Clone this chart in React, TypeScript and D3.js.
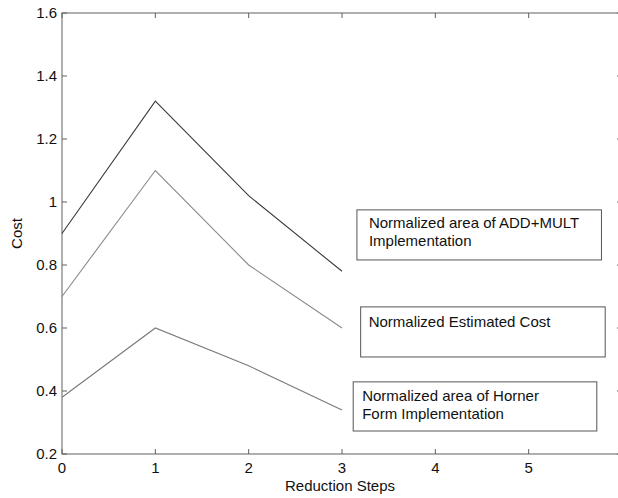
import React from 'react';
import * as d3 from 'd3';

const steps = [0, 1, 2, 3];
const addMult = [0.9, 1.32, 1.02, 0.78];
const estCost = [0.7, 1.1, 0.8, 0.6];
const horner = [0.38, 0.6, 0.48, 0.34];
const xTicks = [0, 1, 2, 3, 4, 5];
const yTicks = [0.2, 0.4, 0.6, 0.8, 1.0, 1.2, 1.4, 1.6];

const series = [
    { values: addMult, color: '#3a3a3a' },
    { values: estCost, color: '#8a8a8a' },
    { values: horner, color: '#7a7a7a' },
];

// annotation boxes, corners in data units
const notes = [
    { x0: 3.16, x1: 5.78, y0: 0.975, y1: 0.816, lines: ['Normalized area of ADD+MULT', 'Implementation'], pad: 12, first: 18 },
    { x0: 3.20, x1: 5.82, y0: 0.667, y1: 0.508, lines: ['Normalized Estimated Cost'], pad: 8, first: 20 },
    { x0: 3.12, x1: 5.73, y0: 0.429, y1: 0.273, lines: ['Normalized area of Horner', 'Form Implementation'], pad: 9, first: 19 },
];

const W = 618;
const H = 498;
const left = 62;
const right = 622;
const top = 13;
const bottom = 454;
const font = 'Liberation Sans, Arial, sans-serif';
const axisColor = '#606060';

export default function App() {
    const x = d3.scaleLinear().domain([0, 6]).range([left, right]);
    const y = d3.scaleLinear().domain([0.2, 1.6]).range([bottom, top]);
    const line = d3.line<number>().x((d, i) => x(steps[i])).y(d => y(d));
    const tickLen = 5;

    return (
        <svg width={W} height={H} style={{ position: 'absolute', left: 0, top: 0, background: '#fff' }}
            fontFamily={font}>
            <rect x={left} y={top} width={right - left} height={bottom - top} fill="none" stroke={axisColor} strokeWidth={1} />
            {xTicks.map(t => (
                <g key={'x' + t}>
                    <line x1={x(t)} x2={x(t)} y1={bottom} y2={bottom - tickLen} stroke={axisColor} />
                    <line x1={x(t)} x2={x(t)} y1={top} y2={top + tickLen} stroke={axisColor} />
                    <text x={x(t)} y={bottom + 19} textAnchor="middle" fontSize={15} fill="#111">{t}</text>
                </g>
            ))}
            {yTicks.map(t => (
                <g key={'y' + t}>
                    <line x1={left} x2={left + tickLen} y1={y(t)} y2={y(t)} stroke={axisColor} />
                    <line x1={right} x2={right - tickLen} y1={y(t)} y2={y(t)} stroke={axisColor} />
                    <text x={left - 5} y={y(t) + 5} textAnchor="end" fontSize={15} fill="#111">{d3.format('~g')(t)}</text>
                </g>
            ))}
            <text x={(left + right) / 2 - 2} y={491} textAnchor="middle" fontSize={15} fill="#111">Reduction Steps</text>
            <text transform={`translate(22,${(top + bottom) / 2}) rotate(-90)`} textAnchor="middle" fontSize={15} fill="#111">Cost</text>
            {series.map((s, i) => (
                <path key={i} d={line(s.values) || ''} fill="none" stroke={s.color} strokeWidth={1.1} />
            ))}
            {notes.map((n, i) => (
                <g key={'n' + i}>
                    <rect x={x(n.x0)} y={y(n.y0)} width={x(n.x1) - x(n.x0)} height={y(n.y1) - y(n.y0)}
                        fill="#fff" stroke="#555" strokeWidth={1} />
                    {n.lines.map((l, j) => (
                        <text key={j} x={x(n.x0) + n.pad} y={y(n.y0) + n.first + j * 18} fontSize={15} fill="#111">{l}</text>
                    ))}
                </g>
            ))}
        </svg>
    );
}
